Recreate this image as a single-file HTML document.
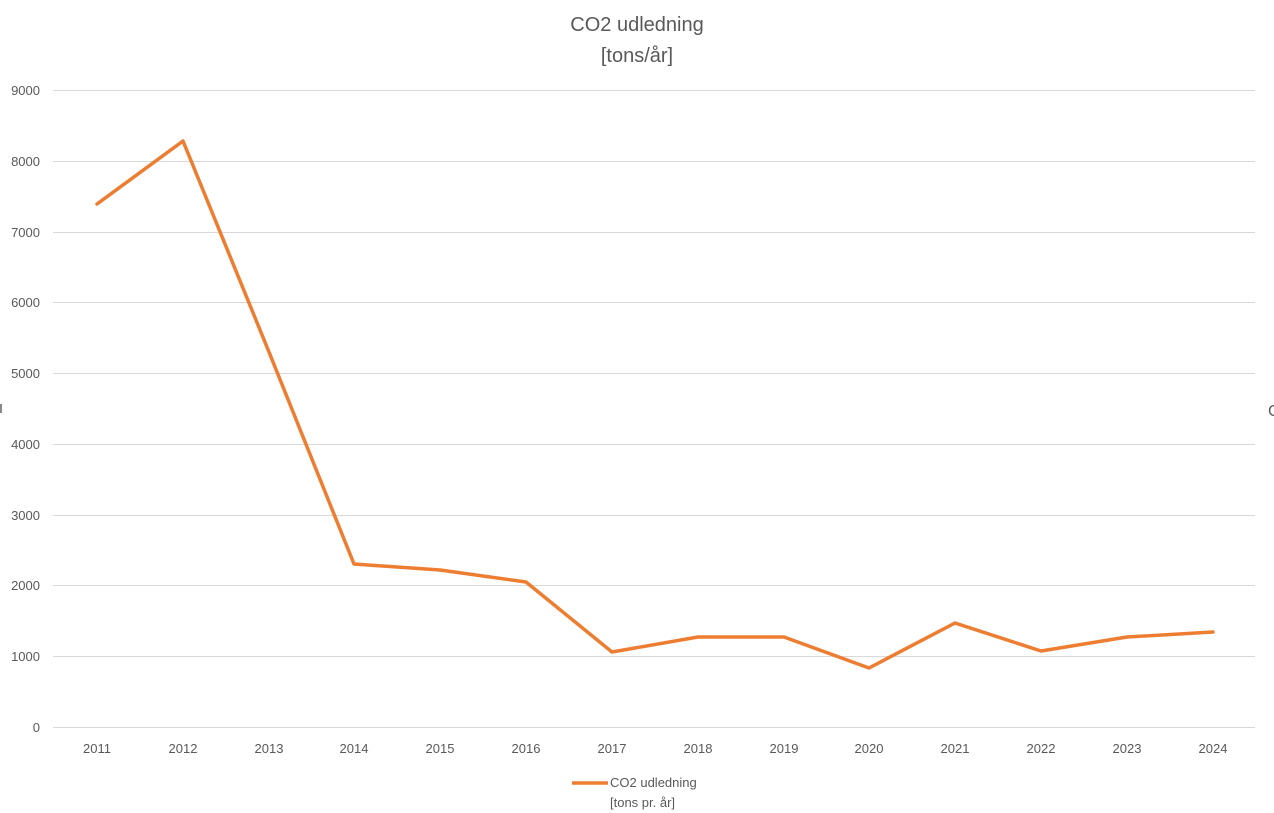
<!DOCTYPE html>
<html><head><meta charset="utf-8"><style>
html,body{margin:0;padding:0;background:#fff;}
svg{display:block;font-family:"Liberation Sans",sans-serif;}
</style></head><body>
<svg width="1274" height="813" viewBox="0 0 1274 813" xmlns="http://www.w3.org/2000/svg">
<rect width="1274" height="813" fill="#fff"/>
<text x="637" y="31" text-anchor="middle" font-size="20" fill="#595959">CO2 udledning</text>
<text x="637" y="62" text-anchor="middle" font-size="20" fill="#595959">[tons/år]</text>
<rect x="0" y="404" width="2" height="9" fill="#888"/>
<text x="1268" y="416" font-size="16" fill="#595959">C</text>
<g stroke="#d9d9d9" stroke-width="1">
<line x1="53" x2="1255" y1="90.5" y2="90.5"/>
<line x1="53" x2="1255" y1="161.5" y2="161.5"/>
<line x1="53" x2="1255" y1="232.5" y2="232.5"/>
<line x1="53" x2="1255" y1="302.5" y2="302.5"/>
<line x1="53" x2="1255" y1="373.5" y2="373.5"/>
<line x1="53" x2="1255" y1="444.5" y2="444.5"/>
<line x1="53" x2="1255" y1="515.5" y2="515.5"/>
<line x1="53" x2="1255" y1="585.5" y2="585.5"/>
<line x1="53" x2="1255" y1="656.5" y2="656.5"/>
<line x1="53" x2="1255" y1="727.5" y2="727.5"/>
</g>
<g font-size="13" fill="#595959" text-anchor="end">
<text x="40" y="95">9000</text>
<text x="40" y="166">8000</text>
<text x="40" y="237">7000</text>
<text x="40" y="307">6000</text>
<text x="40" y="378">5000</text>
<text x="40" y="449">4000</text>
<text x="40" y="520">3000</text>
<text x="40" y="590">2000</text>
<text x="40" y="661">1000</text>
<text x="40" y="732">0</text>
</g>
<g font-size="13" fill="#595959" text-anchor="middle">
<text x="97" y="753">2011</text><text x="183" y="753">2012</text><text x="269" y="753">2013</text>
<text x="354" y="753">2014</text><text x="440" y="753">2015</text><text x="526" y="753">2016</text>
<text x="612" y="753">2017</text><text x="698" y="753">2018</text><text x="784" y="753">2019</text>
<text x="869" y="753">2020</text><text x="955" y="753">2021</text><text x="1041" y="753">2022</text>
<text x="1127" y="753">2023</text><text x="1213" y="753">2024</text>
</g>
<polyline fill="none" stroke="#ed7d31" stroke-width="3.5" stroke-linejoin="round" stroke-linecap="round"
points="97,204 183,141 269,352 354,564 440,570 526,582 612,652 698,637 784,637 869,668 955,623 1041,651 1127,637 1213,632"/>
<line x1="572" x2="608" y1="783" y2="783" stroke="#ed7d31" stroke-width="3.5"/>
<text x="610" y="787" font-size="13" fill="#595959">CO2 udledning</text>
<text x="610" y="807" font-size="13" fill="#595959">[tons pr. år]</text>
</svg>
</body></html>
